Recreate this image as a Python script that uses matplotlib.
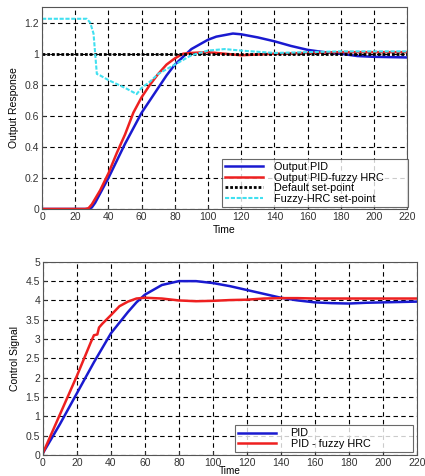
import matplotlib.pyplot as plt
import numpy as np

plt.rcParams['font.family'] = ['Liberation Sans', 'DejaVu Sans']

# output response (top)
t_pid = [0, 28, 30, 32, 35, 40, 45, 50, 55, 60, 65, 70, 75, 80, 85, 90, 95, 100, 105, 110, 115, 120,
         130, 140, 150, 160, 170, 180, 190, 200, 210, 220]
y_pid = [0, 0, 0.01, 0.04, 0.1, 0.2, 0.31, 0.42, 0.52, 0.62, 0.7, 0.78, 0.86, 0.93, 0.98, 1.03, 1.06,
         1.09, 1.11, 1.12, 1.13, 1.125, 1.105, 1.08, 1.05, 1.025, 1.01, 1.0, 0.985, 0.98, 0.978, 0.976]

t_fz = [0, 26, 28, 30, 35, 40, 45, 50, 55, 60, 65, 70, 75, 80, 85, 90, 100, 110, 120, 130, 140, 160,
        180, 200, 220]
y_fz = [0, 0, 0.005, 0.03, 0.12, 0.23, 0.36, 0.48, 0.62, 0.72, 0.8, 0.87, 0.93, 0.97, 1.0, 1.005, 1.01,
        1.0, 0.99, 0.995, 1.0, 1.005, 1.01, 1.01, 1.01]

t_sp = [0, 220]
y_sp = [1, 1]

t_hrc = [0, 27, 29, 31, 32, 33, 35, 40, 50, 57, 60, 65, 70, 80, 90, 100, 110, 120, 140, 160, 180, 220]
y_hrc = [1.225, 1.225, 1.2, 1.13, 1.0, 0.87, 0.86, 0.83, 0.78, 0.74, 0.78, 0.82, 0.87, 0.93, 0.99, 1.02,
         1.03, 1.02, 1.005, 1.01, 1.015, 1.015]

# control signal (bottom)
t_u_pid = [0, 10, 20, 30, 40, 50, 55, 60, 70, 80, 90, 100, 110, 120, 130, 140, 150, 160, 170, 180,
           190, 200, 210, 220]
u_pid = [0.05, 0.8, 1.6, 2.4, 3.15, 3.7, 3.95, 4.15, 4.4, 4.5, 4.5, 4.45, 4.37, 4.27, 4.17, 4.07, 4.0,
         3.95, 3.93, 3.92, 3.94, 3.95, 3.96, 3.97]

t_u_fz = [0, 10, 20, 28, 30, 32, 33, 35, 40, 45, 50, 55, 60, 70, 80, 90, 100, 110, 120, 130, 140, 150,
          160, 220]
u_fz = [0.05, 1.05, 2.05, 2.9, 3.1, 3.12, 3.3, 3.4, 3.62, 3.85, 3.97, 4.05, 4.07, 4.05, 4.0, 3.98, 3.99,
        4.01, 4.02, 4.05, 4.06, 4.06, 4.05, 4.05]

x_ticks = np.arange(0, 221, 20)

fig = plt.figure(figsize=(4.25, 4.76), dpi=100)
ax1 = fig.add_axes([0.099, 0.561, 0.859, 0.424])
ax2 = fig.add_axes([0.101, 0.044, 0.880, 0.406])


def style(ax):
    ax.set_xlim(0, 220)
    ax.set_xticks(x_ticks)
    ax.grid(True, color='black', linestyle=(0, (4, 3)), linewidth=0.8)
    ax.tick_params(direction='in', labelsize=7.5, colors='#333333', length=3, pad=2)
    for s in ax.spines.values():
        s.set_color('#555555')
        s.set_linewidth(0.8)


ax1.plot(t_pid, y_pid, color='#1a1ad0', lw=1.8, label='Output PID')
ax1.plot(t_fz, y_fz, color='#ee2020', lw=1.8, label='Output PID-fuzzy HRC')
ax1.plot(t_sp, y_sp, color='black', lw=2.0, linestyle=(0, (1, 0.7)), label='Default set-point')
ax1.plot(t_hrc, y_hrc, color='#40e0f0', lw=1.5, linestyle=(0, (2, 0.8)), label='Fuzzy-HRC set-point')
style(ax1)
ax1.set_ylim(0, 1.3)
ax1.set_yticks([0, 0.2, 0.4, 0.6, 0.8, 1, 1.2])
ax1.set_yticklabels(['0', '0.2', '0.4', '0.6', '0.8', '1', '1.2'])
ax1.set_xlabel('Time', fontsize=7.5, labelpad=2)
ax1.set_ylabel('Output Response', fontsize=7.5, labelpad=4)
leg1 = ax1.legend(loc='lower left', bbox_to_anchor=(0.493, 0.01, 0.51, 0.2), mode='expand',
                  fontsize=7.8, frameon=True, fancybox=False, edgecolor='#444444',
                  borderaxespad=0, handlelength=3.5, handletextpad=1.0, labelspacing=0.05,
                  borderpad=0.3)
leg1.get_frame().set_linewidth(0.8)

ax2.plot(t_u_pid, u_pid, color='#1a1ad0', lw=1.8, label='PID')
ax2.plot(t_u_fz, u_fz, color='#ee2020', lw=1.8, label='PID - fuzzy HRC')
style(ax2)
ax2.set_ylim(0, 5)
ax2.set_yticks(np.arange(0, 5.01, 0.5))
ax2.set_yticklabels(['0', '0.5', '1', '1.5', '2', '2.5', '3', '3.5', '4', '4.5', '5'])
ax2.set_xlabel('Time', fontsize=7.2, labelpad=-1.5)
ax2.set_ylabel('Control Signal', fontsize=7.5, labelpad=4)
leg2 = ax2.legend(loc='lower left', bbox_to_anchor=(0.513, 0.015, 0.476, 0.15), mode='expand',
                  fontsize=7.8, frameon=True, fancybox=False, edgecolor='#444444',
                  borderaxespad=0, handlelength=3.5, handletextpad=1.35, labelspacing=0.05,
                  borderpad=0.3)
leg2.get_frame().set_linewidth(0.8)

fig.savefig('out.png', dpi=100)
